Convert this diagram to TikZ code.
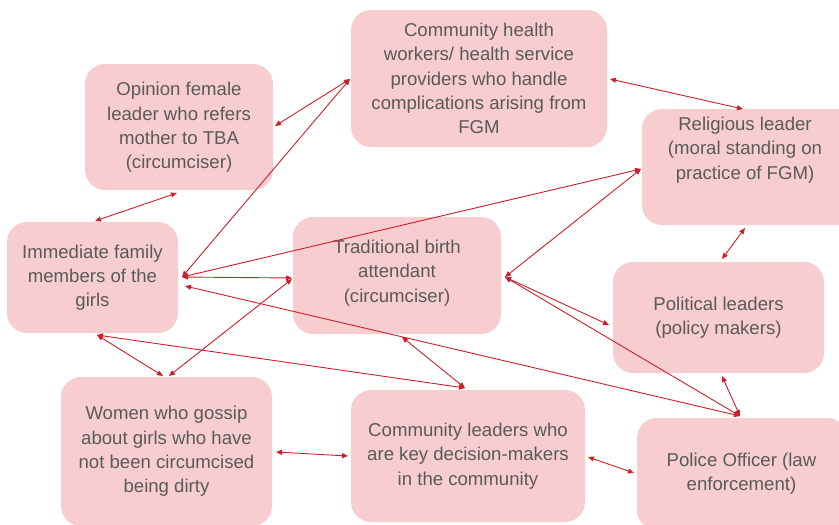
\documentclass[tikz,border=0pt]{standalone}
\usepackage{fontspec}
\setmainfont{Liberation Sans}
\usetikzlibrary{arrows.meta}
\definecolor{boxfill}{HTML}{F7CDD0}
\definecolor{txt}{HTML}{5A5A5A}
\definecolor{arr}{HTML}{CC1F2A}
\begin{document}
\begin{tikzpicture}[x=1pt,y=-1pt,
  box/.style={draw=none,fill=boxfill,rounded corners=20pt,inner sep=0pt},
  lbl/.style={text=txt,align=center,font=\fontsize{18.6}{24.3}\selectfont,inner sep=0pt},
  link/.style={draw=arr,line width=0.9pt,{Triangle[length=6pt,width=5pt]}-{Triangle[length=6pt,width=5pt]}}]
\useasboundingbox (0,0) rectangle (839,525);
\clip (0,0) rectangle (839,525);
% boxes
\node[box,minimum width=188pt,minimum height=126pt] (op) at (179,127) {};
\node[box,minimum width=256pt,minimum height=137pt] (chw) at (479,78.5) {};
\node[box,minimum width=218pt,minimum height=116pt] (rel) at (751,167) {};
\node[box,minimum width=171pt,minimum height=111pt] (imm) at (92.5,277.5) {};
\node[box,minimum width=208pt,minimum height=117pt] (tba) at (397,275.5) {};
\node[box,minimum width=211pt,minimum height=111pt] (pol) at (718.5,317.5) {};
\node[box,minimum width=211pt,minimum height=149pt] (wom) at (166.5,451.5) {};
\node[box,minimum width=234pt,minimum height=132pt] (cl) at (468,456) {};
\node[box,minimum width=210pt,minimum height=112pt] (pc) at (742,474) {};
% texts
\node[lbl] (opt) at (179,127.5) {Opinion female\\leader who refers\\mother to TBA\\(circumciser)};
\node[lbl] (chwt) at (479,78.5) {Community health\\workers/ health service\\providers who handle\\complications arising from\\FGM};
\node[lbl] (relt) at (745,150) {Religious leader\\(moral standing on\\practice of FGM)};
\node[lbl] (immt) at (92.5,277.5) {Immediate family\\members of the\\girls};
\node[lbl] (tbat) at (397,273) {Traditional birth\\attendant\\(circumciser)};
\node[lbl] (polt) at (718.5,318) {Political leaders\\(policy makers)};
\node[lbl] (womt) at (166.5,451.5) {Women who gossip\\about girls who have\\not been circumcised\\being dirty};
\node[lbl] (clt) at (468,456) {Community leaders who\\are key decision-makers\\in the community};
\node[lbl] (pct) at (741.5,474) {Police Officer (law\\enforcement)};
% connector end points
\coordinate (opR) at (275,126);
\coordinate (opB) at (177,193);
\coordinate (chwL) at (350,79);
\coordinate (chwR) at (610,79);
\coordinate (relL) at (641,169);
\coordinate (relT) at (743,109);
\coordinate (relB) at (745,228);
\coordinate (immT) at (95,221);
\coordinate (immR) at (182,277);
\coordinate (immR2) at (185,286);
\coordinate (immB) at (97,335);
\coordinate (tbaL) at (292,278);
\coordinate (tbaL2) at (292,279);
\coordinate (tbaR) at (505,277);
\coordinate (tbaB) at (402,337);
\coordinate (polT) at (722,259);
\coordinate (polL) at (609,325);
\coordinate (polB) at (722,376);
\coordinate (womT) at (163,376);
\coordinate (womT2) at (169,376);
\coordinate (womR) at (276,452);
\coordinate (clT) at (465,388);
\coordinate (clL) at (348,456);
\coordinate (clR) at (588,457);
\coordinate (pcT) at (740,416);
\coordinate (pcL) at (634,473);
% connectors
\draw[link] (opR) -- (chwL);
\draw[link] (opB) -- (immT);
\draw[link] (immR) -- (chwL);
\draw[link] (immR) -- (tbaL);
\draw[link] (immR) -- (relL);
\draw[link] (immR2) -- (pcT);
\draw[link] (immB) -- (womT);
\draw[link] (tbaL2) -- (womT2);
\draw[link] (immB) -- (clT);
\draw[link] (tbaB) -- (clT);
\draw[link] (womR) -- (clL);
\draw[link] (clR) -- (pcL);
\draw[link] (tbaR) -- (polL);
\draw[link] (tbaR) -- (pcT);
\draw[link] (tbaR) -- (relL);
\draw[link] (chwR) -- (relT);
\draw[link] (relB) -- (polT);
\draw[link] (polB) -- (pcT);
\end{tikzpicture}
\end{document}
